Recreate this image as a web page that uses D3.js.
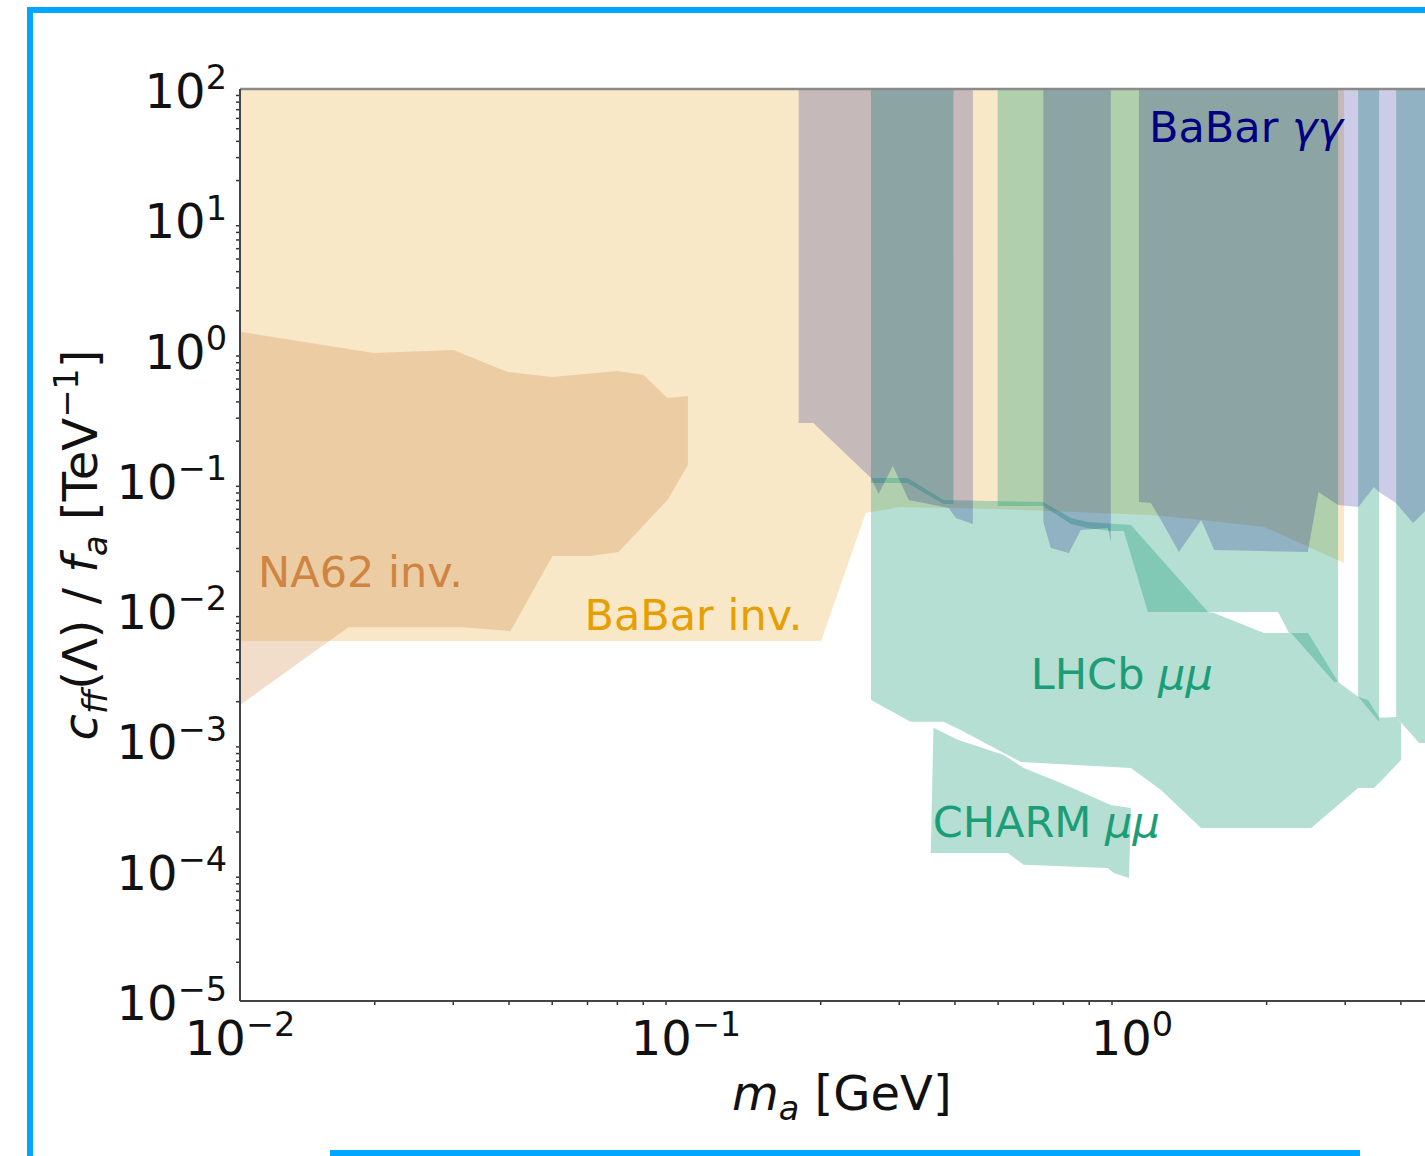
<!DOCTYPE html>
<html>
<head>
<meta charset="utf-8">
<script src="https://cdn.jsdelivr.net/npm/d3@7"></script>
<style>
  html, body { margin: 0; padding: 0; background: #ffffff; overflow: hidden; }
  svg { display: block; font-family: "DejaVu Sans", sans-serif; }
</style>
</head>
<body>
<svg id="chart" width="1425" height="1156"></svg>
<script>
// ---- axis ticks -------------------------------------------------------
const xTickValues = [0.01, 0.1, 1];
const xTickExponents = ["\u22122", "\u22121", "0"];
const yTickValues = [1e-5, 1e-4, 1e-3, 1e-2, 1e-1, 1e0, 1e1, 1e2];
const yTickExponents = ["\u22125", "\u22124", "\u22123", "\u22122", "\u22121", "0", "1", "2"];

// ---- excluded regions: [m_a in GeV, c_ff / f_a in TeV^-1] -------------
const babarInvisible = [
  [0.01, 100], [2.99, 100], [2.99, 0.0230], [2.52, 0.0300], [1.98, 0.0435],
  [1.43, 0.0492], [1.10, 0.0537], [0.508, 0.0597], [0.303, 0.0619],
  [0.253, 0.0557], [0.201, 0.0058], [0.01, 0.0058]
];

const na62Invisible = [
  [0.01, 1.37], [0.0199, 0.941], [0.0301, 0.992], [0.0398, 0.673],
  [0.0502, 0.616], [0.0702, 0.685], [0.0803, 0.638], [0.0909, 0.425],
  [0.101, 0.440], [0.101, 0.130], [0.0909, 0.0701], [0.0706, 0.0280],
  [0.0611, 0.0260], [0.0502, 0.0260], [0.0404, 0.0069], [0.0317, 0.0074],
  [0.0175, 0.0074], [0.01, 0.00187]
];

// LHCb dimuon: lower (displaced) part
const lhcbLower = [
  [0.26, 0.1033], [0.314, 0.1033], [0.378, 0.0701], [0.633, 0.0676],
  [0.730, 0.0510], [0.796, 0.0475], [0.995, 0.0450], [1.482, 0.00968],
  [1.528, 0.00951], [1.978, 0.00668], [2.484, 0.00668], [2.900, 0.00281],
  [3.216, 0.00216], [3.386, 0.00204], [3.584, 0.00149], [3.914, 0.00151],
  [4.016, 0.00136], [4.016, 0.000708], [3.493, 0.000431], [3.216, 0.000431],
  [2.523, 0.000213], [1.429, 0.000213], [1.162, 0.000417], [0.995, 0.000615],
  [0.5635, 0.000683], [0.413, 0.00120], [0.378, 0.00139], [0.319, 0.00139],
  [0.26, 0.00204]
];

// LHCb dimuon: upper (prompt) part, split by the vetoed resonance windows
const lhcbUpperA = [
  [0.26, 100], [0.398, 100], [0.398, 0.0653], [0.378, 0.0653],
  [0.314, 0.0946], [0.26, 0.0946]
];
const lhcbUpperB = [
  [0.500, 100], [2.90, 100], [2.90, 0.00281], [2.84, 0.00281],
  [2.275, 0.00668], [2.251, 0.00668], [2.127, 0.00968], [1.086, 0.00968],
  [0.959, 0.0405], [0.897, 0.0405], [0.796, 0.0427], [0.730, 0.0458],
  [0.633, 0.0630], [0.500, 0.0630]
];
const lhcbUpperC = [
  [3.216, 100], [3.584, 100], [3.584, 0.00139], [3.216, 0.00216]
];
const lhcbUpperD = [
  [3.914, 100], [5, 100], [5, 0.000956], [4.409, 0.000956], [3.914, 0.00151]
];

const charmDimuon = [
  [0.359, 0.00125], [0.407, 0.00101], [0.516, 0.000774], [0.572, 0.000615],
  [0.693, 0.000471], [0.897, 0.000319], [0.995, 0.000303], [0.985, 0.0000879],
  [0.911, 0.0000960], [0.883, 0.000105], [0.572, 0.000111], [0.527, 0.000137],
  [0.354, 0.000137]
];

// BaBar diphoton, split by its own gaps
const babarDiphotonA = [
  [0.179, 100], [0.440, 100], [0.440, 0.0458], [0.403, 0.0510],
  [0.388, 0.0608], [0.316, 0.0701], [0.291, 0.1278], [0.2705, 0.0779],
  [0.26, 0.1033], [0.193, 0.273], [0.179, 0.273]
];
const babarDiphotonB = [
  [0.633, 100], [0.897, 100], [0.897, 0.0333], [0.883, 0.0427],
  [0.768, 0.0412], [0.722, 0.0275], [0.658, 0.0300], [0.633, 0.0475]
];
const babarDiphotonC = [
  [1.037, 100], [5, 100], [5, 0.0660], [4.57, 0.0587], [4.27, 0.0467],
  [3.91, 0.0664], [3.58, 0.0807], [3.49, 0.0882], [3.22, 0.0619],
  [2.90, 0.0641], [2.62, 0.0807], [2.48, 0.0280], [1.53, 0.0289],
  [1.43, 0.0492], [1.275, 0.0280], [1.162, 0.0492], [1.103, 0.0664],
  [1.037, 0.0676]
];

// ---- layout ------------------------------------------------------------
const svg = d3.select("#chart");
const W = 1425, H = 1156;
const plot = { left: 240, right: 1443.6, top: 89, bottom: 1001 };

const x = d3.scaleLog().domain([0.01, 5]).range([plot.left, plot.right]);
const y = d3.scaleLog().domain([1e-5, 1e2]).range([plot.bottom, plot.top]);

// page frame
const frameColor = "#00a6ff";
svg.append("rect").attr("x", 27).attr("y", 7).attr("width", W - 27).attr("height", 6).attr("fill", frameColor);
svg.append("rect").attr("x", 27).attr("y", 7).attr("width", 6).attr("height", H - 7).attr("fill", frameColor);
svg.append("rect").attr("x", 330).attr("y", 1150).attr("width", 1030).attr("height", 6).attr("fill", frameColor);

svg.append("clipPath").attr("id", "plot-clip")
  .append("rect")
  .attr("x", plot.left).attr("y", plot.top)
  .attr("width", plot.right - plot.left).attr("height", plot.bottom - plot.top);

const regionLine = d3.line().x(d => x(d[0])).y(d => y(d[1]));
const regions = svg.append("g").attr("clip-path", "url(#plot-clip)");

const layers = [
  { data: babarInvisible, fill: "#e09a10", opacity: 0.23 },
  { data: na62Invisible,  fill: "#cd853f", opacity: 0.28 },
  { data: lhcbLower,      fill: "#1b9e77", opacity: 0.33 },
  { data: lhcbUpperA,     fill: "#1b9e77", opacity: 0.33 },
  { data: lhcbUpperB,     fill: "#1b9e77", opacity: 0.33 },
  { data: lhcbUpperC,     fill: "#1b9e77", opacity: 0.33 },
  { data: lhcbUpperD,     fill: "#1b9e77", opacity: 0.33 },
  { data: charmDimuon,    fill: "#1b9e77", opacity: 0.33 },
  { data: babarDiphotonA, fill: "#000080", opacity: 0.2 },
  { data: babarDiphotonB, fill: "#000080", opacity: 0.2 },
  { data: babarDiphotonC, fill: "#000080", opacity: 0.2 }
];
layers.forEach(l => {
  regions.append("path")
    .attr("d", regionLine(l.data) + "Z")
    .attr("fill", l.fill)
    .attr("fill-opacity", l.opacity)
    .attr("stroke", "none");
});

// region labels
const regionLabels = [
  { parts: [["NA62 inv.", false]], m: 0.01098, c: 0.01505, color: "#cf8442" },
  { parts: [["BaBar inv.", false]], m: 0.0592, c: 0.00704, color: "#e69f00" },
  { parts: [["LHCb ", false], ["\u03bc\u03bc", true]], m: 0.5934, c: 0.00248, color: "#1b9e77" },
  { parts: [["CHARM ", false], ["\u03bc\u03bc", true]], m: 0.3575, c: 0.0001815, color: "#1b9e77" },
  { parts: [["BaBar ", false], ["\u03b3\u03b3", true]], m: 1.092, c: 39.2, color: "#000080" }
];
regionLabels.forEach(lab => {
  const t = svg.append("text")
    .attr("x", x(lab.m)).attr("y", y(lab.c))
    .attr("font-size", 43).attr("fill", lab.color);
  lab.parts.forEach(([s, it]) => {
    t.append("tspan").attr("font-style", it ? "italic" : "normal").text(s);
  });
});

// ---- axes --------------------------------------------------------------
const tickColor = "#333333";
const fontSize = 48;

function minorTicks(lo, hi) {
  const out = [];
  for (let e = lo; e < hi; e++) {
    for (let k = 2; k <= 9; k++) out.push(k * Math.pow(10, e));
  }
  return out;
}

// y axis
const yAxisG = svg.append("g").attr("transform", `translate(${plot.left},0)`);
yAxisG.call(d3.axisLeft(y).tickValues(yTickValues).tickFormat("").tickSizeOuter(0).tickSize(8));
yAxisG.call(d3.axisLeft(y).tickValues(minorTicks(-5, 2)).tickFormat("").tickSizeOuter(0).tickSize(4));
yAxisG.selectAll(".domain").remove();
yAxisG.selectAll(".tick line").attr("stroke", tickColor).attr("stroke-width", 1.5);

// x axis
const xAxisG = svg.append("g").attr("transform", `translate(0,${plot.bottom})`);
xAxisG.call(d3.axisBottom(x).tickValues(xTickValues).tickFormat("").tickSizeOuter(0).tickSize(8));
xAxisG.call(d3.axisBottom(x).tickValues(minorTicks(-2, 1).filter(v => v <= 5)).tickFormat("").tickSizeOuter(0).tickSize(4));
xAxisG.selectAll(".domain").remove();
xAxisG.selectAll(".tick line").attr("stroke", tickColor).attr("stroke-width", 1.5);

// spines
svg.append("line").attr("x1", plot.left).attr("x2", plot.right).attr("y1", plot.top).attr("y2", plot.top)
  .attr("stroke", "#8a8a8a").attr("stroke-width", 2.5);
svg.append("line").attr("x1", plot.left).attr("x2", plot.left).attr("y1", plot.top).attr("y2", plot.bottom)
  .attr("stroke", "#444444").attr("stroke-width", 2);
svg.append("line").attr("x1", plot.left).attr("x2", plot.right).attr("y1", plot.bottom).attr("y2", plot.bottom)
  .attr("stroke", "#444444").attr("stroke-width", 2);

// power-of-ten tick labels
function powerLabel(sel, exp) {
  sel.append("tspan").text("10");
  sel.append("tspan").attr("font-size", fontSize * 0.7).attr("dy", -fontSize * 0.39).text(exp);
}
yTickValues.forEach((v, i) => {
  const t = svg.append("text")
    .attr("x", 227).attr("y", y(v) + 19)
    .attr("text-anchor", "end").attr("font-size", fontSize).attr("fill", "#111");
  powerLabel(t, yTickExponents[i]);
});
xTickValues.forEach((v, i) => {
  const t = svg.append("text")
    .attr("x", x(v)).attr("y", plot.bottom + 54)
    .attr("text-anchor", "middle").attr("font-size", fontSize).attr("fill", "#111");
  powerLabel(t, xTickExponents[i]);
});

// axis titles
const sub = fontSize * 0.2, sup = fontSize * 0.39;
const xTitle = svg.append("text")
  .attr("x", (plot.left + plot.right) / 2).attr("y", 1110)
  .attr("text-anchor", "middle").attr("font-size", fontSize).attr("fill", "#111");
xTitle.append("tspan").attr("font-style", "italic").text("m");
xTitle.append("tspan").attr("font-style", "italic").attr("font-size", fontSize * 0.7).attr("dy", sub).text("a");
xTitle.append("tspan").attr("dy", -sub).text(" [GeV]");

const yTitle = svg.append("text")
  .attr("transform", `translate(97,${(plot.top + plot.bottom) / 2}) rotate(-90)`)
  .attr("text-anchor", "middle").attr("font-size", fontSize).attr("fill", "#111");
yTitle.append("tspan").attr("font-style", "italic").text("c");
yTitle.append("tspan").attr("font-style", "italic").attr("font-size", fontSize * 0.7).attr("dy", sub).text("ff");
yTitle.append("tspan").attr("dy", -sub).text("(\u039b) / ");
yTitle.append("tspan").attr("font-style", "italic").text("f");
yTitle.append("tspan").attr("font-style", "italic").attr("font-size", fontSize * 0.7).attr("dy", sub).text("a");
yTitle.append("tspan").attr("dy", -sub).text(" [TeV");
yTitle.append("tspan").attr("font-size", fontSize * 0.7).attr("dy", -sup).text("\u22121");
yTitle.append("tspan").attr("dy", sup).text("]");
</script>
</body>
</html>
